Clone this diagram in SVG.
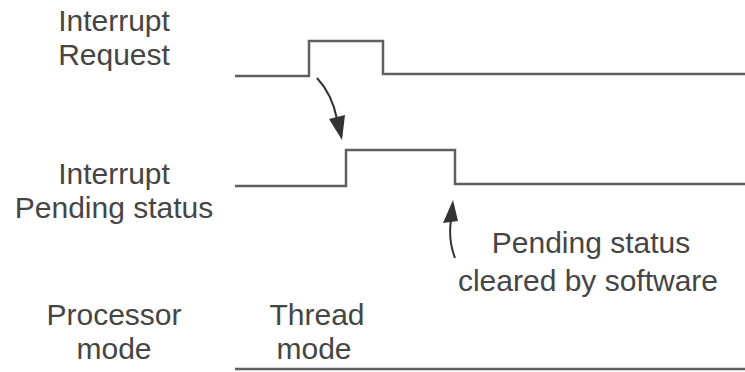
<svg xmlns="http://www.w3.org/2000/svg" width="745" height="372" viewBox="0 0 745 372">
<style>
.t{font-family:"Liberation Sans",Arial,sans-serif;font-size:30px;fill:#454545;text-anchor:middle}
.w{fill:none;stroke:#5f5f5f;stroke-width:2.5}
.a{fill:none;stroke:#333;stroke-width:2}
.h{fill:#333}
</style>
<rect width="745" height="372" fill="#fff"/>
<g id="label-request"><text class="t" x="114" y="31">Interrupt</text><text class="t" x="114" y="65">Request</text></g>
<g id="label-pending"><text class="t" x="114" y="184">Interrupt</text><text class="t" x="114" y="218">Pending status</text></g>
<g id="label-mode"><text class="t" x="114" y="325">Processor</text><text class="t" x="114" y="359">mode</text></g>
<g id="label-thread"><text class="t" x="317" y="325">Thread</text><text class="t" x="314" y="359">mode</text></g>
<g id="label-cleared"><text class="t" x="591" y="253">Pending status</text><text class="t" x="588" y="291">cleared by software</text></g>
<g id="wave-request"><path class="w" d="M235,76 H309 V41 H383 V74 H745"/></g>
<g id="wave-pending"><path class="w" d="M235,186 H346 V150 H455 V184 H745"/></g>
<g id="wave-mode"><path class="w" d="M235,369 H745"/></g>
<g id="connectors">
<path class="a" d="M317,78 Q332,94 337,119"/>
<polygon class="h" points="342,140 329,119 345,115"/>
<path class="a" d="M455,258 Q448,240 451,220"/>
<polygon class="h" points="453,200 443,223 458,221"/>
</g>
</svg>
